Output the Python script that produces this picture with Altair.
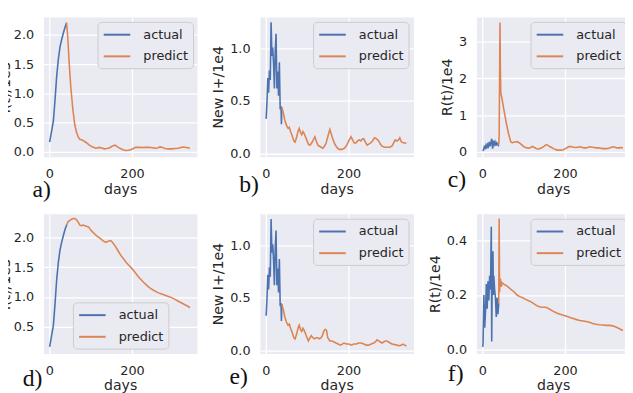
import altair as alt
import pandas as pd

BLUE = "#4c72b0"
ORANGE = "#dd8452"
XDOM = [-14, 357]

# ---------------- panel a / d : I(t)/1e5 ----------------
i_actual_day = [1, 5, 10, 14, 18, 22, 26, 30, 34, 38, 42]
i_actual_val = [0.16, 0.32, 0.52, 0.88, 1.29, 1.58, 1.79, 1.92, 2.03, 2.13, 2.21]

a_pred_day = [42, 45, 48, 52, 57, 62, 66, 70, 74, 78, 84, 90, 97, 105, 113, 121, 127,
              133, 139, 145, 152, 159, 165, 172, 178, 185, 191, 197, 203, 209, 217,
              225, 233, 241, 249, 257, 263, 268, 274, 280, 288, 296, 304, 312, 318,
              324, 332, 340]
a_pred_val = [2.21, 1.95, 1.55, 1.12, 0.73, 0.45, 0.33, 0.25, 0.21, 0.20, 0.18, 0.15,
              0.11, 0.075, 0.055, 0.07, 0.06, 0.045, 0.05, 0.06, 0.09, 0.11, 0.08,
              0.05, 0.03, 0.017, 0.02, 0.03, 0.05, 0.073, 0.07, 0.067, 0.07, 0.073,
              0.065, 0.056, 0.065, 0.078, 0.07, 0.05, 0.045, 0.045, 0.05, 0.056, 0.07,
              0.078, 0.07, 0.056]

d_pred_day = [42, 46, 50, 54, 58, 62, 66, 70, 74, 78, 82, 86, 90, 95, 100, 104, 110,
              116, 121, 126, 131, 137, 143, 149, 155, 161, 167, 173, 179, 185, 193,
              201, 209, 217, 225, 232, 240, 248, 256, 264, 272, 280, 288, 296, 304,
              312, 320, 328, 334, 340]
d_pred_val = [2.21, 2.27, 2.29, 2.31, 2.32, 2.32, 2.30, 2.26, 2.21, 2.20, 2.21, 2.20,
              2.19, 2.18, 2.13, 2.10, 2.06, 2.02, 2.00, 1.97, 1.94, 1.92, 1.94, 1.95,
              1.90, 1.84, 1.77, 1.70, 1.65, 1.59, 1.53, 1.47, 1.40, 1.33, 1.27, 1.22,
              1.17, 1.13, 1.10, 1.07, 1.05, 1.03, 1.01, 0.99, 0.96, 0.93, 0.90, 0.87,
              0.85, 0.82]

# ---------------- panel b / e : New I+/1e4 ----------------
n_actual_day = [1, 3, 5, 7, 9, 11, 13, 15, 17, 19, 21, 23, 25, 27, 29, 31, 33, 35, 37, 38, 39]
n_actual_val = [0.33, 0.48, 0.72, 0.58, 0.79, 0.70, 1.25, 0.93, 1.01, 0.85, 0.62, 0.98,
                1.14, 0.62, 0.78, 0.55, 0.87, 0.42, 0.45, 0.28, 0.44]

b_pred_day = [39, 43, 46, 50, 54, 57, 60, 64, 68, 71, 75, 78, 81, 84, 87, 90, 93, 96,
              99, 103, 107, 111, 115, 119, 122, 126, 130, 134, 138, 142, 146, 150, 155,
              159, 162, 166, 170, 174, 178, 184, 190, 196, 202, 206, 210, 214, 218, 222,
              226, 230, 234, 237, 241, 245, 249, 253, 258, 263, 268, 273, 277, 281, 287,
              293, 299, 305, 309, 313, 317, 321, 324, 328, 334, 340]
b_pred_val = [0.44, 0.38, 0.32, 0.27, 0.24, 0.25, 0.21, 0.17, 0.12, 0.11, 0.16, 0.21,
              0.24, 0.20, 0.18, 0.21, 0.19, 0.16, 0.13, 0.09, 0.08, 0.10, 0.13, 0.16,
              0.12, 0.08, 0.07, 0.06, 0.05, 0.07, 0.10, 0.16, 0.23, 0.18, 0.14, 0.10,
              0.07, 0.05, 0.04, 0.04, 0.05, 0.08, 0.13, 0.16, 0.13, 0.10, 0.10, 0.12,
              0.13, 0.12, 0.14, 0.14, 0.11, 0.08, 0.09, 0.10, 0.12, 0.15, 0.14, 0.12,
              0.09, 0.07, 0.06, 0.06, 0.06, 0.07, 0.10, 0.13, 0.12, 0.13, 0.15, 0.11,
              0.10, 0.10]

e_pred_day = [39, 43, 46, 50, 54, 57, 60, 64, 68, 71, 75, 78, 81, 84, 87, 90, 93, 96,
              99, 103, 107, 110, 114, 118, 122, 126, 130, 134, 137, 140, 144, 147, 150,
              155, 160, 165, 170, 175, 181, 185, 189, 195, 201, 207, 213, 219, 225, 231,
              237, 243, 249, 255, 261, 265, 269, 273, 277, 281, 285, 289, 293, 297, 301,
              305, 311, 317, 323, 328, 332, 336, 340]
e_pred_val = [0.44, 0.38, 0.32, 0.27, 0.24, 0.25, 0.21, 0.17, 0.12, 0.11, 0.16, 0.21,
              0.24, 0.20, 0.18, 0.21, 0.19, 0.16, 0.13, 0.09, 0.12, 0.14, 0.12, 0.11,
              0.12, 0.12, 0.11, 0.12, 0.14, 0.18, 0.20, 0.19, 0.12, 0.09, 0.09, 0.08,
              0.07, 0.06, 0.05, 0.06, 0.07, 0.06, 0.06, 0.05, 0.06, 0.06, 0.07, 0.07,
              0.06, 0.05, 0.05, 0.06, 0.07, 0.08, 0.10, 0.09, 0.08, 0.07, 0.08, 0.09,
              0.09, 0.08, 0.07, 0.06, 0.055, 0.05, 0.045, 0.05, 0.06, 0.05, 0.04]

# ---------------- panel c : R(t)/1e4 ----------------
c_actual_day = [1, 3, 5, 7, 9, 11, 13, 15, 17, 19, 21, 23, 25, 27, 29, 31, 33, 35, 37, 39, 40]
c_actual_val = [0.03, 0.05, 0.14, 0.10, 0.18, 0.09, 0.20, 0.15, 0.27, 0.15, 0.25, 0.36,
                0.09, 0.31, 0.20, 0.27, 0.17, 0.25, 0.22, 0.18, 0.20]
c_pred_day = [40, 41, 43, 44, 45, 47, 50, 54, 58, 63, 69, 73, 77, 81, 85, 89, 93, 97,
              101, 105, 109, 113, 117, 121, 125, 129, 133, 137, 141, 145, 150, 155, 159,
              164, 168, 172, 176, 181, 186, 191, 196, 201, 206, 211, 216, 221, 226, 231,
              236, 241, 246, 251, 256, 261, 266, 271, 276, 281, 286, 291, 296, 301, 306,
              311, 316, 321, 326, 331, 336, 340]
c_pred_val = [0.20, 0.45, 3.52, 2.20, 1.60, 1.50, 1.30, 1.05, 0.80, 0.53, 0.27, 0.25,
              0.27, 0.27, 0.28, 0.25, 0.22, 0.18, 0.14, 0.12, 0.11, 0.10, 0.12, 0.15,
              0.13, 0.10, 0.08, 0.08, 0.10, 0.12, 0.16, 0.20, 0.18, 0.14, 0.12, 0.09,
              0.07, 0.05, 0.05, 0.05, 0.06, 0.09, 0.12, 0.15, 0.14, 0.13, 0.12, 0.13,
              0.14, 0.13, 0.11, 0.11, 0.13, 0.14, 0.13, 0.12, 0.11, 0.11, 0.10, 0.09,
              0.09, 0.09, 0.10, 0.12, 0.14, 0.13, 0.11, 0.11, 0.12, 0.11]

# ---------------- panel f : R(t)/1e4 ----------------
f_actual_day = [1, 2, 4, 6, 8, 10, 12, 14, 16, 18, 20, 22, 23, 24, 26, 27, 28, 30, 32,
                34, 36, 38, 40]
f_actual_val = [0.01, 0.02, 0.20, 0.08, 0.14, 0.24, 0.15, 0.25, 0.18, 0.27, 0.22, 0.45,
                0.03, 0.24, 0.36, 0.20, 0.27, 0.22, 0.19, 0.12, 0.19, 0.13, 0.17]
f_pred_day = [40, 41, 42, 43, 44, 46, 48, 52, 58, 64, 70, 77, 84, 91, 98, 105, 111,
              117, 123, 129, 135, 141, 147, 153, 159, 165, 172, 180, 188, 196, 204, 212,
              220, 228, 236, 244, 251, 259, 267, 275, 283, 291, 299, 306, 313, 320, 327,
              334, 340]
f_pred_val = [0.17, 0.48, 0.21, 0.25, 0.26, 0.23, 0.245, 0.24, 0.235, 0.228, 0.22,
              0.212, 0.20, 0.194, 0.19, 0.184, 0.18, 0.176, 0.17, 0.164, 0.159, 0.156,
              0.155, 0.155, 0.152, 0.146, 0.14, 0.134, 0.13, 0.126, 0.122, 0.118, 0.114,
              0.11, 0.107, 0.105, 0.103, 0.10, 0.096, 0.093, 0.091, 0.09, 0.089, 0.089,
              0.088, 0.085, 0.08, 0.075, 0.07]


def panel(ad, av, pdays, pv, ydom, yticks, yfmt, ytitle, lx, ly, tag, tx, ty, tpad=4):
    df = pd.DataFrame({
        "day": list(ad) + list(pdays),
        "value": list(av) + list(pv),
        "series": ["actual"] * len(ad) + ["predict"] * len(pdays),
    })
    line = alt.Chart(df).mark_line(strokeWidth=1.6, clip=True).encode(
        x=alt.X("day:Q", scale=alt.Scale(domain=XDOM, nice=False, zero=False),
                axis=alt.Axis(values=[0, 200], format="d", title="days")),
        y=alt.Y("value:Q", scale=alt.Scale(domain=ydom, nice=False, zero=False),
                axis=alt.Axis(values=yticks, format=yfmt, title=ytitle, titlePadding=tpad)),
        color=alt.Color("series:N",
                        scale=alt.Scale(domain=["actual", "predict"], range=[BLUE, ORANGE]),
                        legend=alt.Legend(orient="none", legendX=lx, legendY=ly, title=None)),
    )
    label = alt.Chart(pd.DataFrame({"t": [tag]})).mark_text(
        font="Liberation Serif", fontSize=24, align="left", baseline="alphabetic",
        color="#111111"
    ).encode(x=alt.value(tx), y=alt.value(ty), text="t:N")
    return alt.layer(line, label).properties(width=156, height=142)


pa = panel(i_actual_day, i_actual_val, a_pred_day, a_pred_val, [-0.09, 2.31],
           [0.0, 0.5, 1.0, 1.5, 2.0], ".1f", "I(t)/1e5", 55, 5, "a)", -11, 183, tpad=1)
pb = panel(n_actual_day, n_actual_val, b_pred_day, b_pred_val, [-0.03, 1.30],
           [0.0, 0.5, 1.0], ".1f", "New I+/1e4", 54, 5, "b)", -21, 178)
pc = panel(c_actual_day, c_actual_val, c_pred_day, c_pred_val, [-0.13, 3.67],
           [0, 1, 2, 3], "d", "R(t)/1e4", 55, 5, "c)", -29, 173)
pd_ = panel(i_actual_day, i_actual_val, d_pred_day, d_pred_val, [0.05, 2.40],
            [0.5, 1.0, 1.5, 2.0], ".1f", "I(t)/1e5", 30, 90, "d)", -21, 175, tpad=1)
pe = panel(n_actual_day, n_actual_val, e_pred_day, e_pred_val, [-0.03, 1.30],
           [0.0, 0.5, 1.0], ".1f", "New I+/1e4", 54, 5, "e)", -31, 173)
pf = panel(f_actual_day, f_actual_val, f_pred_day, f_pred_val, [-0.014, 0.497],
           [0.0, 0.2, 0.4], ".1f", "R(t)/1e4", 55, 5, "f)", -29, 170)

chart = alt.concat(pa, pb, pc, pd_, pe, pf, columns=3).properties(
    bounds="flush",
    spacing={"row": 58, "column": 64},
    padding={"left": -11, "top": 5, "right": -6, "bottom": -3},
    background="white",
).resolve_legend(color="independent").configure_view(
    fill="#eaeaf2", stroke="transparent"
).configure_axis(
    grid=True, gridColor="white", gridWidth=1.3, domain=False, ticks=False, tickSize=0,
    labelFont="DejaVu Sans", labelFontSize=13, labelColor="#262626", labelFlush=False,
    titleFont="DejaVu Sans", titleFontSize=14.3, titleFontWeight="normal",
    titleColor="#262626",
).configure_axisX(labelPadding=11, titlePadding=2).configure_axisY(
    labelPadding=10
).configure_legend(
    fillColor="#eaeaf2", strokeColor="#cccccc", cornerRadius=4, padding=5,
    labelFont="DejaVu Sans", labelFontSize=13, labelColor="#262626",
    symbolType="M-1,0H3", symbolSize=182, symbolStrokeWidth=2, labelOffset=25.5,
    rowPadding=7,
)

chart.save("out.html", embed_options={"renderer": "svg", "actions": False})
